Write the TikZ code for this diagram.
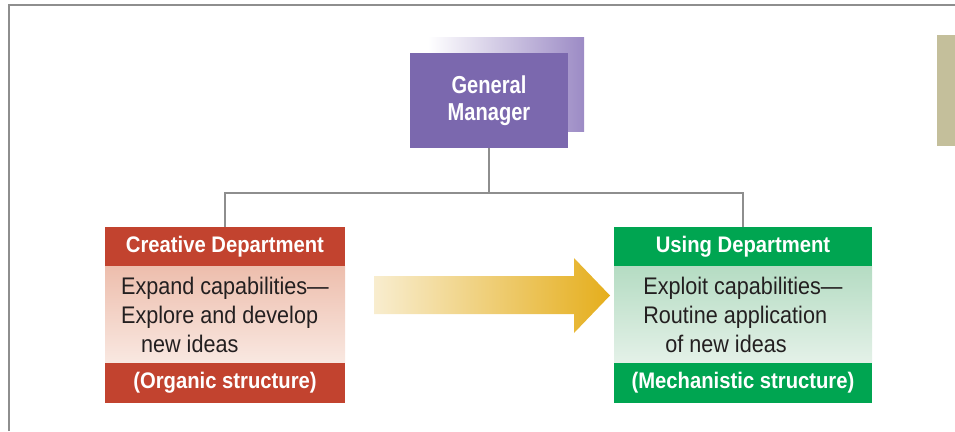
\documentclass[tikz,border=0pt]{standalone}
\usepackage{fontspec}
\setmainfont{Liberation Sans}[FakeStretch=0.9]
\newfontfamily\gmfont{Liberation Sans}[FakeStretch=0.82]
\usetikzlibrary{positioning,calc}
\definecolor{frame}{HTML}{8E8E8E}
\definecolor{khaki}{HTML}{C4BF9B}
\definecolor{gmpurple}{HTML}{7B68AE}
\definecolor{gmshade}{HTML}{9C8BC5}
\definecolor{crered}{HTML}{C2432F}
\definecolor{crepink}{HTML}{EDBEAD}
\definecolor{crepale}{HTML}{F9E8E1}
\definecolor{usegreen}{HTML}{00A551}
\definecolor{usemint}{HTML}{B5DCC3}
\definecolor{usepale}{HTML}{E4F1E8}
\definecolor{flowpale}{HTML}{F8EDCF}
\definecolor{flowgold}{HTML}{E5AE1C}
\definecolor{ink}{HTML}{231F20}

\begin{document}
\begin{tikzpicture}[x=1pt,y=-1pt,node distance=0pt,
  bar/.style={inner sep=0pt,minimum height=39.5pt,text=white,font=\bfseries\fontsize{22.5}{27}\selectfont},
  body/.style={inner sep=0pt,minimum height=96pt,align=left,text=ink,font=\fontsize{24}{29}\selectfont},
  link/.style={draw=frame,line width=2.5pt}]
  \useasboundingbox (0,0) rectangle (955,431);
  \draw[frame,line width=2pt] (9,431) -- (9,5) -- (955,5);
  \fill[khaki] (937,35) rectangle (955,146);
  % general manager with its shadow
  \shade[left color=white,right color=gmshade] (428,37) rectangle (584,131);
  \node[fill=gmpurple,text=white,minimum width=158pt,minimum height=95pt,inner sep=0pt,align=center,
    font=\gmfont\bfseries\fontsize{24.5}{27}\selectfont] (gm) at (489,100.5) {General\\Manager};
  % creative department
  \node[bar,fill=crered,minimum width=240pt] (crehead) at (225,246.5) {Creative Department};
  \node[body,below=of crehead,minimum width=240pt,top color=crepink,bottom color=crepale] (crebody)
    {Expand capabilities—\\Explore and develop\\\hspace*{20pt}new ideas};
  \node[bar,below=of crebody,fill=crered,minimum width=240pt] (crefoot) {(Organic structure)};
  % using department
  \node[bar,fill=usegreen,minimum width=258pt] (usehead) at (743,246.5) {Using Department};
  \node[body,below=of usehead,minimum width=258pt,top color=usemint,bottom color=usepale] (usebody)
    {Exploit capabilities—\\Routine application\\\hspace*{22pt}of new ideas};
  \node[bar,below=of usebody,fill=usegreen,minimum width=258pt] (usefoot) {(Mechanistic structure)};
  % reporting lines
  \draw[link] (gm.south) -- ($(gm.south)+(0,45)$) coordinate (hub);
  \draw[link] (hub) -| (crehead.north);
  \draw[link] (hub) -| (usehead.north);
  % transfer arrow
  \shade[left color=flowpale,right color=flowgold]
    (374,276) -- (574,276) -- (574,258) -- (610,295.5) -- (574,333) -- (574,314) -- (374,314) -- cycle;
\end{tikzpicture}
\end{document}
